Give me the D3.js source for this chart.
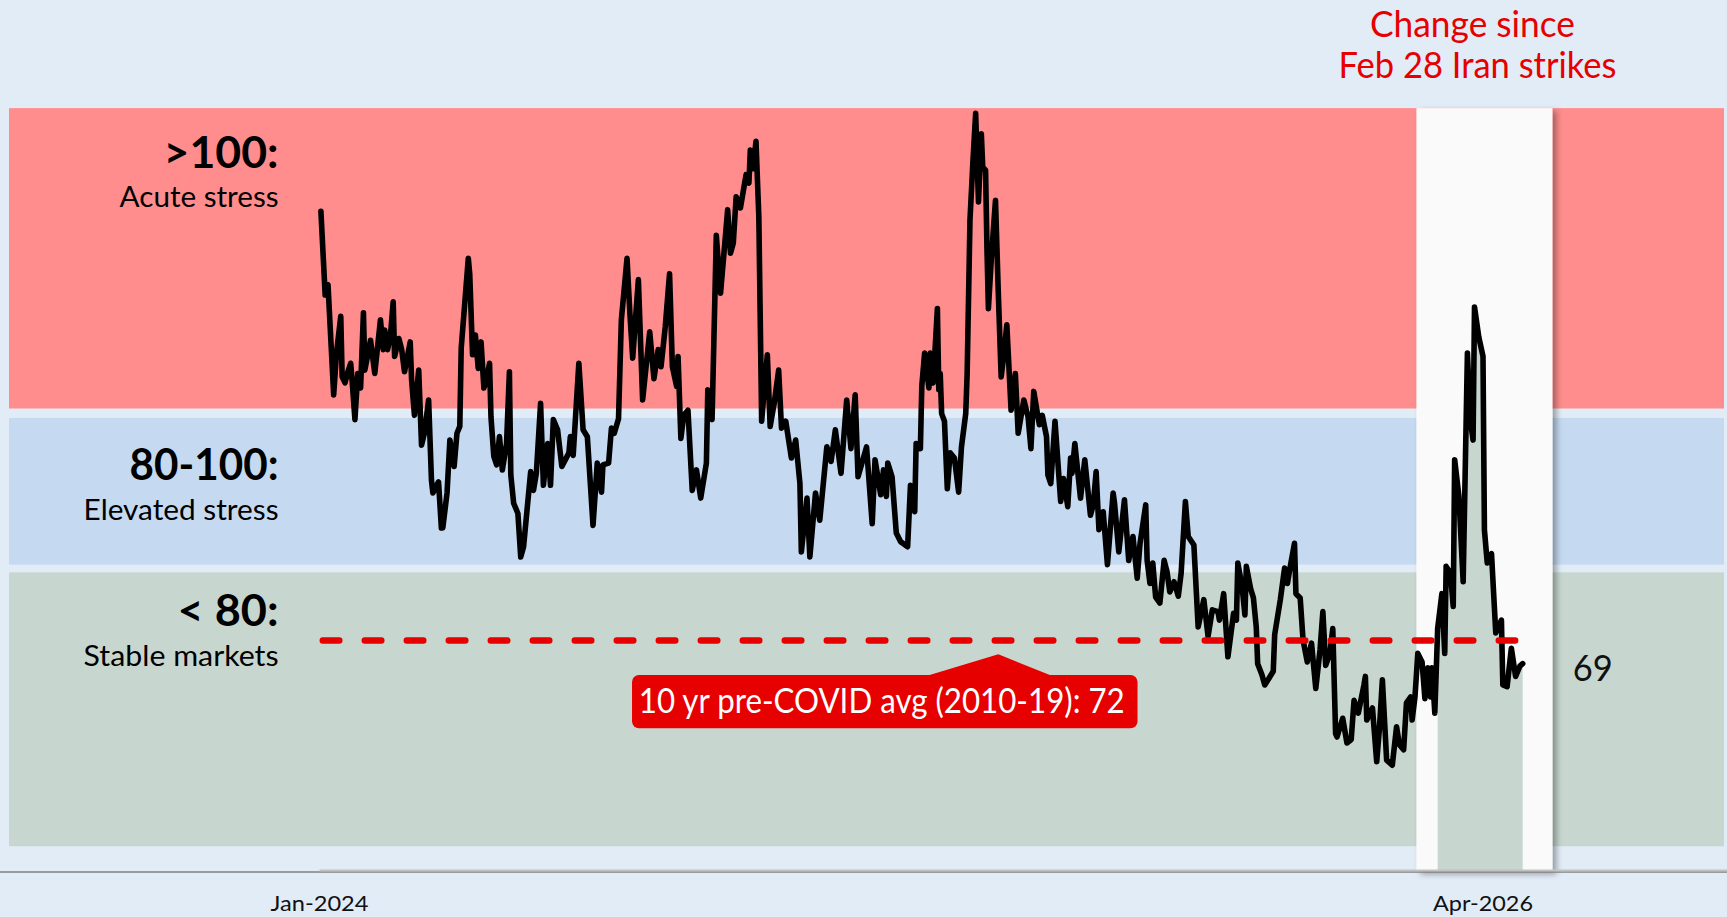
<!DOCTYPE html>
<html>
<head>
<meta charset="utf-8">
<script src="https://cdn.jsdelivr.net/npm/d3@7"></script>
<style>
  body { margin: 0; background: #e2ecf7; }
  svg { display: block; font-family: Lato, "Noto Sans", sans-serif; }
</style>
</head>
<body>
<svg id="chart"></svg>
<script>
// bond-market stress index
const dates = [
  "2024-01-02","2024-01-05","2024-01-07","2024-01-11","2024-01-13","2024-01-16","2024-01-17","2024-01-19","2024-01-21","2024-01-23",
  "2024-01-24","2024-01-26","2024-01-28","2024-01-30","2024-02-01","2024-02-02","2024-02-06","2024-02-09","2024-02-13","2024-02-15",
  "2024-02-16","2024-02-18","2024-02-20","2024-02-22","2024-02-23","2024-02-26","2024-02-28","2024-03-01","2024-03-05","2024-03-06",
  "2024-03-08","2024-03-11","2024-03-13","2024-03-15","2024-03-18","2024-03-20","2024-03-21","2024-03-25","2024-03-27","2024-03-28",
  "2024-03-31","2024-04-02","2024-04-05","2024-04-07","2024-04-09","2024-04-10","2024-04-15","2024-04-16","2024-04-18","2024-04-20",
  "2024-04-22","2024-04-24","2024-04-26","2024-04-28","2024-04-30","2024-05-01","2024-05-03","2024-05-05","2024-05-07","2024-05-09",
  "2024-05-12","2024-05-14","2024-05-15","2024-05-17","2024-05-19","2024-05-20","2024-05-22","2024-05-24","2024-05-29","2024-05-31",
  "2024-06-02","2024-06-05","2024-06-07","2024-06-10","2024-06-12","2024-06-14","2024-06-17","2024-06-20","2024-06-25","2024-06-26",
  "2024-06-28","2024-07-02","2024-07-05","2024-07-08","2024-07-12","2024-07-15","2024-07-18","2024-07-19","2024-07-23","2024-07-25",
  "2024-07-27","2024-07-30","2024-08-01","2024-08-05","2024-08-07","2024-08-09","2024-08-13","2024-08-16","2024-08-21","2024-08-24",
  "2024-08-27","2024-08-29","2024-09-01","2024-09-04","2024-09-06","2024-09-09","2024-09-10","2024-09-12","2024-09-14","2024-09-17",
  "2024-09-20","2024-09-23","2024-09-26","2024-09-30","2024-10-01","2024-10-04","2024-10-07","2024-10-10","2024-10-15",
  "2024-10-17","2024-10-19","2024-10-21","2024-10-24","2024-10-28","2024-10-30","2024-10-31","2024-11-02","2024-11-04","2024-11-06",
  "2024-11-08","2024-11-10","2024-11-12","2024-11-14","2024-11-17","2024-11-20","2024-11-22","2024-11-25","2024-11-29","2024-12-02",
  "2024-12-05","2024-12-06","2024-12-10","2024-12-12","2024-12-16","2024-12-19","2024-12-24","2024-12-27","2024-12-30","2025-01-03",
  "2025-01-07","2025-01-10","2025-01-13","2025-01-15","2025-01-21","2025-01-25","2025-01-27","2025-01-31","2025-02-02","2025-02-04",
  "2025-02-05","2025-02-08","2025-02-11","2025-02-14","2025-02-19","2025-02-21","2025-02-24","2025-02-25","2025-02-28","2025-03-01",
  "2025-03-03","2025-03-06","2025-03-07","2025-03-09","2025-03-12","2025-03-13","2025-03-14","2025-03-15","2025-03-17","2025-03-19",
  "2025-03-21","2025-03-24","2025-03-27","2025-03-29","2025-04-01","2025-04-02","2025-04-04","2025-04-06","2025-04-08","2025-04-10",
  "2025-04-12","2025-04-13","2025-04-15","2025-04-16","2025-04-17","2025-04-19","2025-04-22","2025-04-24","2025-04-26","2025-04-28",
  "2025-04-30","2025-05-03","2025-05-06","2025-05-08","2025-05-12","2025-05-15","2025-05-17","2025-05-19","2025-05-22","2025-05-23",
  "2025-05-25","2025-05-28","2025-05-29","2025-05-31","2025-06-03","2025-06-07","2025-06-09","2025-06-12","2025-06-14","2025-06-15",
  "2025-06-17","2025-06-21","2025-06-24","2025-06-28","2025-06-30","2025-07-02","2025-07-04","2025-07-07","2025-07-10","2025-07-14",
  "2025-07-15","2025-07-18","2025-07-22","2025-07-25","2025-07-28","2025-07-31","2025-08-02","2025-08-06","2025-08-07","2025-08-09",
  "2025-08-11","2025-08-13","2025-08-16","2025-08-19","2025-08-21","2025-08-23","2025-08-26","2025-08-29","2025-08-31","2025-09-03",
  "2025-09-05","2025-09-09","2025-09-12","2025-09-16","2025-09-19","2025-09-22","2025-09-26","2025-09-27","2025-09-30","2025-10-03",
  "2025-10-07","2025-10-09","2025-10-10","2025-10-13","2025-10-15","2025-10-16","2025-10-19","2025-10-21","2025-10-23","2025-10-24",
  "2025-10-27","2025-10-29","2025-11-01","2025-11-04","2025-11-05","2025-11-09","2025-11-12","2025-11-14","2025-11-16","2025-11-19",
  "2025-11-20","2025-11-23","2025-11-25","2025-11-28","2025-12-01","2025-12-04","2025-12-07","2025-12-09","2025-12-11","2025-12-14",
  "2025-12-16","2025-12-18","2025-12-19","2025-12-23","2025-12-26","2025-12-29","2025-12-31","2026-01-03","2026-01-07","2026-01-08",
  "2026-01-09","2026-01-13","2026-01-16","2026-01-18","2026-01-20","2026-01-23","2026-01-27","2026-01-30","2026-02-01","2026-02-04",
  "2026-02-06","2026-02-09","2026-02-10","2026-02-12","2026-02-14","2026-02-17","2026-02-19","2026-02-21","2026-02-23","2026-02-24",
  "2026-02-26","2026-02-28","2026-03-03","2026-03-05","2026-03-06","2026-03-09","2026-03-11","2026-03-12","2026-03-15","2026-03-18",
  "2026-03-21","2026-03-23","2026-03-25","2026-03-26","2026-03-29","2026-04-01","2026-04-02","2026-04-04","2026-04-07","2026-04-10",
  "2026-04-14","2026-04-15","2026-04-18","2026-04-21","2026-04-24","2026-04-27","2026-04-29"
];
const values = [
  122.3,112.5,113.7,100.8,105.7,110.0,102.9,102.2,103.5,104.5,
  102.5,97.9,103.3,101.6,110.4,103.7,107.2,103.3,109.6,106.1,
  108.4,106.1,107.6,111.7,105.3,107.4,106.1,103.5,107.0,102.5,
  98.4,103.7,94.9,96.3,100.2,90.8,89.3,90.6,85.2,85.2,
  89.3,95.5,92.4,96.3,97.1,106.3,116.8,115.0,105.5,107.8,
  103.9,107.0,101.6,102.7,104.5,98.2,93.6,92.6,95.9,92.0,
  95.1,103.5,91.4,88.1,87.3,86.9,81.8,83.0,91.8,89.6,
  91.6,99.8,90.2,95.1,90.2,97.9,96.7,92.4,94.0,95.9,
  93.7,104.5,96.7,95.9,85.5,92.8,89.4,92.6,92.8,96.9,
  96.3,98.0,109.6,116.8,110.4,105.1,114.3,100.2,108.2,102.7,
  106.1,104.1,108.8,115.0,104.1,101.8,105.3,95.7,98.4,99.0,
  89.6,92.0,88.7,92.8,101.4,97.9,119.5,112.7,122.5,
  117.4,118.6,124.0,122.7,126.6,125.6,129.5,127.3,130.5,121.7,
  97.7,101.8,105.5,97.1,100.0,103.7,96.9,97.7,93.4,95.5,
  90.4,82.4,88.7,81.8,89.3,86.1,94.7,93.0,96.7,91.6,
  100.2,94.5,100.8,91.2,94.7,85.7,93.2,89.1,92.0,88.9,
  92.8,91.2,84.6,83.6,83.0,90.2,87.1,95.1,94.5,101.8,
  105.7,101.6,105.7,102.2,110.9,101.4,103.3,98.6,97.7,89.8,
  94.0,93.4,89.4,94.7,98.6,103.3,121.3,127.9,133.8,123.4,
  131.4,127.5,127.1,117.8,110.9,116.6,123.6,112.7,102.9,105.7,
  109.0,99.0,103.3,96.3,100.2,98.2,94.5,101.2,98.2,97.3,
  98.4,95.9,91.4,90.4,97.7,88.3,91.0,87.7,93.4,91.6,
  95.1,88.7,93.2,86.7,87.9,91.8,85.0,87.1,80.9,89.3,
  88.1,82.4,88.5,81.4,84.2,79.3,83.4,87.9,81.4,78.7,
  81.1,77.1,76.4,81.4,80.1,77.7,78.9,77.2,79.9,88.3,
  84.2,83.2,73.6,76.8,72.5,75.6,75.4,74.4,77.5,70.1,
  75.2,74.4,81.1,78.3,75.0,80.7,78.1,77.0,73.6,69.3,
  68.0,66.8,67.6,68.4,72.7,76.8,80.5,78.7,80.7,83.4,
  77.5,77.0,72.1,69.5,71.7,66.4,70.9,75.4,69.1,70.5,
  73.4,61.1,60.7,62.9,60.0,60.4,65.0,63.5,66.8,67.8,
  62.7,64.1,57.8,61.9,67.4,58.0,57.4,61.9,59.8,59.2,
  64.7,65.4,62.7,65.4,70.5,69.5,65.2,68.8,65.4,68.8,
  63.5,73.4,77.5,70.5,80.7,79.9,76.0,93.2,88.9,78.9,
  105.7,97.9,95.5,111.1,107.6,105.3,85.0,81.1,82.2,72.9,
  74.4,66.8,66.6,71.1,67.8,69.0,69.3
];

const tickDates = ["2024-01-01", "2026-04-01"];
const tickLabels = ["Jan-2024", "Apr-2026"];

const bandNames = [">100:", "80-100:", "< 80:"];
const bandDescs = ["Acute stress", "Elevated stress", "Stable markets"];
const bandTops = [134.4, 98.1, 80];
const bandBottoms = [99.2, 80.9, 47.9];

const avgValue = 72;
const avgRange = ["2024-01-01", "2026-04-26"];
const avgLabel = "10 yr pre-COVID avg (2010-19): 72";
const calloutDate = "2025-04-24";

const shockStart = "2026-02-28";
const highlightRange = ["2026-02-13", "2026-05-20"];
const titleLines = ["Change since", "Feb 28 Iran strikes"];
const lastLabel = "69";

// ---- drawing ----
const W = 1727, H = 917;
const red = "#e60000";
const bandColors = ["#ff8d8d", "#c5daf1", "#c7d7cf"];

const parseDate = d3.utcParse("%Y-%m-%d");
const data = dates.map((d, i) => ({ date: parseDate(d), value: values[i] }));

const svg = d3.select("#chart").attr("width", W).attr("height", H);

const x = d3.scaleUtc()
  .domain(tickDates.map(parseDate))
  .range([319.5, 1483]);
const y = d3.scaleLinear().domain([45, 135]).range([871, 103]);

const defs = svg.append("defs");
defs.append("filter").attr("id", "shadow")
  .attr("x", "-20%").attr("y", "-5%").attr("width", "140%").attr("height", "115%")
  .append("feDropShadow")
  .attr("dx", 4).attr("dy", 3).attr("stdDeviation", 3)
  .attr("flood-color", "#000").attr("flood-opacity", 0.35);

svg.append("rect").attr("width", W).attr("height", H).attr("fill", "#e2ecf7");

// stress bands
svg.selectAll("rect.band").data(bandNames).join("rect")
  .attr("class", "band")
  .attr("x", 9).attr("width", 1715)
  .attr("y", (d, i) => y(bandTops[i]))
  .attr("height", (d, i) => y(bandBottoms[i]) - y(bandTops[i]))
  .attr("fill", (d, i) => bandColors[i]);

const nameOffsets = [60, 62, 54];
const descOffsets = [99, 102, 94];
const nameWidths = [115, 149, 101];
const descWidths = [159, 195, 195];

svg.selectAll("text.bandName").data(bandNames).join("text")
  .attr("class", "bandName")
  .attr("x", 278.6).attr("y", (d, i) => y(bandTops[i]) + nameOffsets[i])
  .attr("text-anchor", "end")
  .attr("font-size", 44).attr("font-weight", 700).attr("fill", "#000")
  .attr("textLength", (d, i) => nameWidths[i]).attr("lengthAdjust", "spacingAndGlyphs")
  .text(d => d);

svg.selectAll("text.bandDesc").data(bandDescs).join("text")
  .attr("class", "bandDesc")
  .attr("x", 278.6).attr("y", (d, i) => y(bandTops[i]) + descOffsets[i])
  .attr("text-anchor", "end")
  .attr("font-size", 29).attr("fill", "#000")
  .attr("textLength", (d, i) => descWidths[i]).attr("lengthAdjust", "spacingAndGlyphs")
  .text(d => d);

// highlight since the strikes
const h0 = x(parseDate(highlightRange[0])), h1 = x(parseDate(highlightRange[1]));
svg.append("rect")
  .attr("x", h0).attr("width", h1 - h0)
  .attr("y", y(bandTops[0])).attr("height", y(45) - y(bandTops[0]))
  .attr("fill", "#fafafa")
  .attr("filter", "url(#shadow)");

const recent = data.filter(d => d.date >= parseDate(shockStart));
svg.append("path").datum(recent)
  .attr("fill", bandColors[2])
  .attr("d", d3.area().x(d => x(d.date)).y0(y(45)).y1(d => y(d.value)));

// axis lines
svg.append("line")
  .attr("x1", 0).attr("x2", W).attr("y1", 872).attr("y2", 872)
  .attr("stroke", "#808080").attr("stroke-width", 1.3);
svg.append("line")
  .attr("x1", x(parseDate(tickDates[0]))).attr("x2", W).attr("y1", 870.6).attr("y2", 870.6)
  .attr("stroke", "#c2c2c2").attr("stroke-width", 2);

svg.selectAll("text.tick").data(tickLabels).join("text")
  .attr("class", "tick")
  .attr("x", (d, i) => x(parseDate(tickDates[i])))
  .attr("y", 911)
  .attr("text-anchor", "middle")
  .attr("font-size", 22).attr("fill", "#111")
  .attr("textLength", (d, i) => [98, 100][i]).attr("lengthAdjust", "spacingAndGlyphs")
  .text(d => d);

// the index
svg.append("path").datum(data)
  .attr("fill", "none")
  .attr("stroke", "#000").attr("stroke-width", 5.6)
  .attr("stroke-linejoin", "round").attr("stroke-linecap", "round")
  .attr("d", d3.line().x(d => x(d.date)).y(d => y(d.value)));

// pre-covid average
svg.append("line")
  .attr("x1", x(parseDate(avgRange[0])) + 3.3).attr("x2", x(parseDate(avgRange[1])) - 3.3)
  .attr("y1", y(avgValue)).attr("y2", y(avgValue))
  .attr("stroke", red).attr("stroke-width", 6.5)
  .attr("stroke-linecap", "round").attr("stroke-dasharray", "16.5 25.5");

// callout
const ax = x(parseDate(calloutDate)), ay = y(avgValue) + 13.7;
const boxTop = y(avgValue) + 34.4, boxH = 53.3;
const boxL = ax - 366.3, boxR = ax + 139.2;
const callout = svg.append("g");
callout.append("rect")
  .attr("x", boxL).attr("y", boxTop).attr("width", boxR - boxL).attr("height", boxH)
  .attr("rx", 7).attr("fill", red);
callout.append("path")
  .attr("d", `M${ax - 72},${boxTop + 1}L${ax},${ay}L${ax + 54},${boxTop + 1}Z`)
  .attr("fill", red);
callout.append("text")
  .attr("x", (boxL + boxR) / 2 - 3).attr("y", boxTop + 38.3)
  .attr("text-anchor", "middle")
  .attr("font-size", 34).attr("fill", "#fff")
  .attr("textLength", 486).attr("lengthAdjust", "spacingAndGlyphs")
  .text(avgLabel);

// latest value
const last = data[data.length - 1];
svg.append("text")
  .attr("x", x(last.date) + 50).attr("y", y(last.value) + 17.5)
  .attr("font-size", 37).attr("fill", "#111")
  .attr("textLength", 40).attr("lengthAdjust", "spacingAndGlyphs")
  .text(lastLabel);

// title over the highlight
svg.selectAll("text.title").data(titleLines).join("text")
  .attr("class", "title")
  .attr("x", (d, i) => [1472.5, 1477.5][i])
  .attr("y", (d, i) => [36.7, 78.3][i])
  .attr("text-anchor", "middle")
  .attr("font-size", 37).attr("fill", red)
  .attr("textLength", (d, i) => [205, 278][i]).attr("lengthAdjust", "spacingAndGlyphs")
  .text(d => d);
</script>
</body>
</html>
